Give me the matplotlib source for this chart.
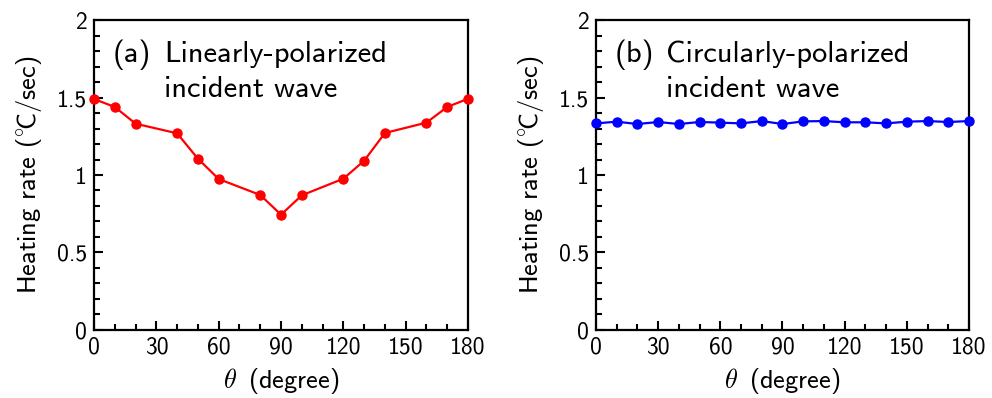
import matplotlib
matplotlib.use("Agg")
import matplotlib.pyplot as plt
from matplotlib.ticker import MultipleLocator

plt.rcParams['font.family'] = ['cmss10', 'DejaVu Sans']
plt.rcParams['mathtext.fontset'] = 'cm'
plt.rcParams['axes.unicode_minus'] = False

theta_a = [0, 10, 20, 40, 50, 60, 80, 90, 100, 120, 130, 140, 160, 170, 180]
rate_a = [1.490, 1.439, 1.331, 1.269, 1.105, 0.974, 0.871, 0.744, 0.869, 0.976,
          1.092, 1.271, 1.338, 1.439, 1.492]

theta_b = [0, 10, 20, 30, 40, 50, 60, 70, 80, 90, 100, 110, 120, 130, 140, 150, 160, 170, 180]
rate_b = [1.333, 1.344, 1.329, 1.342, 1.329, 1.342, 1.338, 1.333, 1.348, 1.329,
          1.346, 1.348, 1.340, 1.340, 1.333, 1.344, 1.348, 1.342, 1.348]

xticks = [0, 30, 60, 90, 120, 150, 180]
yticks = [0, 0.5, 1, 1.5, 2]
ytick_labels = ['0', '0.5', '1', '1.5', '2']

fig = plt.figure(figsize=(9.92, 3.98), dpi=100)
ax1 = fig.add_axes([0.0948, 0.1709, 0.3770, 0.7788])
ax2 = fig.add_axes([0.6008, 0.1709, 0.3760, 0.7788])

panels = [
    (ax1, theta_a, rate_a, '#ff0000', '(a)', 'Linearly-polarized', 'incident wave'),
    (ax2, theta_b, rate_b, '#0000ff', '(b)', 'Circularly-polarized', 'incident wave'),
]

for ax, x, y, c, tag, line1, line2 in panels:
    ax.plot(x, y, '-o', color=c, lw=1.6, ms=6.5, clip_on=False, zorder=3)
    ax.set_xlim(0, 180)
    ax.set_ylim(0, 2)
    ax.set_xticks(xticks)
    ax.set_xticklabels([str(t) for t in xticks])
    ax.set_yticks(yticks)
    ax.set_yticklabels(ytick_labels)
    ax.xaxis.set_minor_locator(MultipleLocator(10))
    ax.yaxis.set_minor_locator(MultipleLocator(0.1))
    ax.tick_params(which='both', direction='in', top=False, right=False,
                   labelsize=17, width=1.5)
    ax.tick_params(which='major', length=6.5, pad=5)
    ax.tick_params(which='minor', length=4)
    for s in ax.spines.values():
        s.set_linewidth(1.6)
    ax.set_xlabel(r'$\theta\,$ (degree)', fontsize=19, labelpad=5)
    ax.set_ylabel(r'Heating rate (${}^{\circ}\!$C/sec)', fontsize=19, labelpad=9)
    ax.text(0.051, 0.8645, tag, transform=ax.transAxes, fontsize=22, va='baseline', ha='left')
    ax.text(0.187, 0.8645, line1, transform=ax.transAxes, fontsize=22, va='baseline', ha='left')
    ax.text(0.187, 0.753, line2, transform=ax.transAxes, fontsize=22, va='baseline', ha='left')

fig.savefig('out.png', dpi=100)
